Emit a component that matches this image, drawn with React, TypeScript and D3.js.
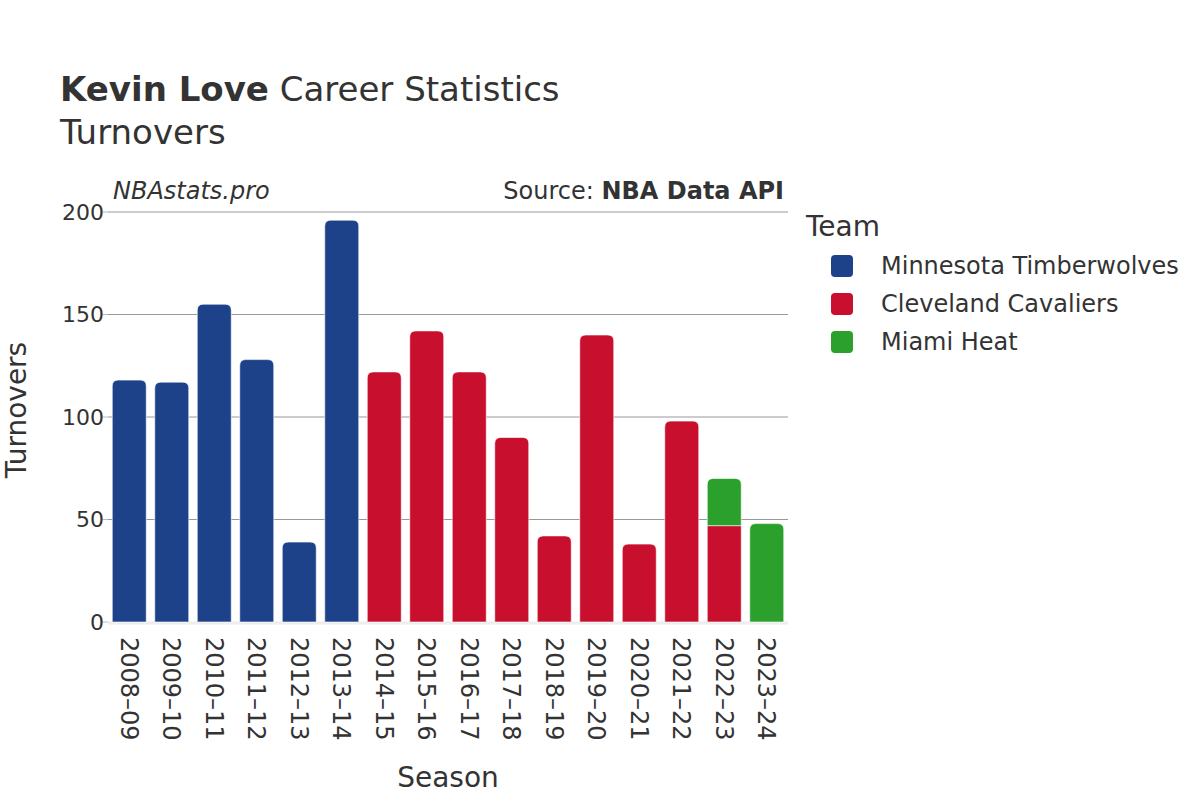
import React from "react";
import * as d3 from "d3";

const seasons = ["2008–09","2009–10","2010–11","2011–12","2012–13","2013–14","2014–15","2015–16","2016–17","2017–18","2018–19","2019–20","2020–21","2021–22","2022–23","2023–24"];
const teams = ["Minnesota Timberwolves", "Cleveland Cavaliers", "Miami Heat"];
const teamColors = ["#1d428a", "#c8102e", "#2ca02c"];
const minnesota = [118, 117, 155, 128, 39, 196, 0, 0, 0, 0, 0, 0, 0, 0, 0, 0];
const cleveland = [0, 0, 0, 0, 0, 0, 122, 142, 122, 90, 42, 140, 38, 98, 47, 0];
const miami = [0, 0, 0, 0, 0, 0, 0, 0, 0, 0, 0, 0, 0, 0, 23, 48];
const yTicks = [0, 50, 100, 150, 200];

const FONT = "'DejaVu Sans', sans-serif";

function topRoundedRect(x: number, y: number, w: number, h: number, r: number) {
  const rr = Math.min(r, h, w / 2);
  return `M${x},${y + h}V${y + rr}Q${x},${y} ${x + rr},${y}H${x + w - rr}Q${x + w},${y} ${x + w},${y + rr}V${y + h}Z`;
}

export default function App() {
  const left = 108, right = 788, top = 212, bottom = 622;
  const x = d3.scaleBand<string>().domain(seasons).range([left, right]).paddingInner(0.2).paddingOuter(0.1);
  const y = d3.scaleLinear().domain([0, 200]).range([bottom, top]);
  const series = [minnesota, cleveland, miami];
  const stack = d3.stack<number>().keys(["0", "1", "2"]).value((i, k) => series[+k][i]);
  const stacked = stack(d3.range(seasons.length));

  const topIdx = seasons.map((_, i) => {
    let t = -1;
    series.forEach((s, k) => { if (s[i] > 0) t = k; });
    return t;
  });

  return (
    <svg width={1200} height={800} style={{ display: "block", position: "absolute", left: 0, top: 0 }} fontFamily={FONT}>
      <rect width={1200} height={800} fill="#fff" />
      <text x={60} y={101} fontSize={34} fill="#333">
        <tspan fontWeight="bold">Kevin Love</tspan> Career Statistics
      </text>
      <text x={60} y={144} fontSize={34} fill="#333">Turnovers</text>

      {yTicks.map(t => (
        <g key={t}>
          {t > 0 && <line x1={left} x2={right} y1={y(t)} y2={y(t)} stroke="#999" strokeWidth={1} />}
          <line x1={left - 5} x2={left} y1={y(t)} y2={y(t)} stroke="#bbb" strokeWidth={1} />
          <text x={left - 4} y={y(t)} dy="0.35em" textAnchor="end" fontSize={22} fill="#333">{t}</text>
        </g>
      ))}
      <line x1={left} x2={right} y1={bottom + 1} y2={bottom + 1} stroke="#eee" strokeWidth={3} />

      {stacked.map((layer, k) => (
        <g key={k}>
          {layer.map((d, i) => {
            const v = d[1] - d[0];
            if (v <= 0) return null;
            const bx = x(seasons[i])!;
            const bw = x.bandwidth();
            const y0 = y(d[0]), y1 = y(d[1]);
            const r = topIdx[i] === k ? 6 : 0;
            return <path key={i} d={topRoundedRect(bx, y1, bw, y0 - y1, r)} fill={teamColors[k]} stroke="#fff" strokeOpacity={0.6} strokeWidth={1} />;
          })}
        </g>
      ))}

      {seasons.map(s => (
        <text key={s} transform={`translate(${x(s)! + x.bandwidth() / 2},${bottom + 15}) rotate(90)`} dy="0.35em" fontSize={24} fill="#333">{s}</text>
      ))}

      <text x={(left + right) / 2} y={787} textAnchor="middle" fontSize={28} fill="#333">Season</text>
      <text transform={`translate(26,${410}) rotate(-90)`} textAnchor="middle" fontSize={28} fill="#333">Turnovers</text>

      <text x={113} y={199} fontSize={24} fontStyle="italic" fill="#333">NBAstats.pro</text>
      <text x={784} y={199} fontSize={24} textAnchor="end" fill="#333">Source: <tspan fontWeight="bold">NBA Data API</tspan></text>

      <text x={806} y={236} fontSize={28} fill="#333">Team</text>
      {teams.map((t, i) => (
        <g key={t} transform={`translate(0,${266 + i * 38})`}>
          <rect x={831} y={-11} width={22} height={22} rx={4} fill={teamColors[i]} />
          <text x={881} y={0} dy="0.35em" fontSize={24} fill="#333">{t}</text>
        </g>
      ))}
    </svg>
  );
}
